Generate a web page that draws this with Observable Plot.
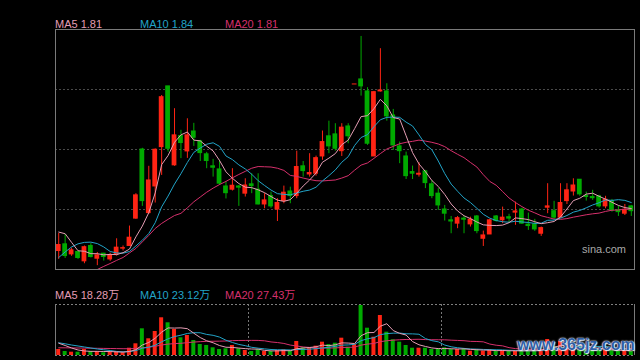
<!DOCTYPE html>
<html><head><meta charset="utf-8">
<script src="https://cdn.jsdelivr.net/npm/d3@7"></script>
<script src="https://cdn.jsdelivr.net/npm/@observablehq/plot@0.6"></script>
<style>
html,body{margin:0;padding:0;background:#000;}
#wrap{position:relative;width:640px;height:360px;background:#000;overflow:hidden;font-family:"Liberation Sans",Arial,"Noto Sans CJK SC",sans-serif;}
#wrap svg{position:absolute;left:0;}
.lg{position:absolute;font-size:11px;line-height:11px;white-space:nowrap;}
.wm1{position:absolute;font-size:11px;line-height:11px;color:#a8a8a8;}
.wm2{position:absolute;font-size:16px;line-height:16px;font-weight:bold;color:#2f5fa6;text-shadow:0 0 1px #fff,0 0 2px #fff,1px 1px 1px #dfe8f5;}
</style></head>
<body><div id="wrap"></div>
<script>
// ---- data ----
const open = [1.637,1.665,1.623,1.633,1.594,1.658,1.605,1.626,1.602,1.622,
1.647,1.658,1.772,2.060,1.795,1.906,2.070,2.323,1.994,2.116,
2.052,2.135,2.094,2.040,1.990,1.977,1.906,1.8925,1.906,1.876,
1.915,1.8925,1.831,1.866,1.810,1.845,1.885,1.866,1.990,1.956,
1.959,2.031,2.115,2.123,2.053,2.156,2.331,2.352,2.302,2.031,
2.302,2.302,2.202,2.073,2.031,1.966,1.955,1.969,1.915,1.876,
1.810,1.765,1.751,1.772,1.748,1.781,1.688,1.706,1.781,1.765,
1.778,1.797,1.810,1.747,1.748,1.709,1.8175,1.803,1.776,1.845,
1.885,1.934,1.866,1.862,1.865,1.823,1.845,1.806,1.7925,1.823];
const close = [1.662,1.616,1.640,1.608,1.653,1.612,1.619,1.612,1.619,1.651,
1.649,1.6925,1.869,1.845,1.931,2.059,2.278,2.063,2.119,2.087,
2.119,2.109,2.045,2.012,1.984,1.9175,1.878,1.909,1.901,1.910,
1.9075,1.831,1.848,1.823,1.837,1.880,1.866,1.987,1.970,1.962,
2.024,2.091,2.073,2.063,2.151,2.115,2.331,2.323,2.084,2.299,
2.306,2.198,2.077,2.053,1.949,1.959,1.959,1.920,1.866,1.827,
1.7925,1.760,1.774,1.7675,1.7675,1.720,1.702,1.765,1.762,1.776,
1.772,1.802,1.751,1.741,1.727,1.7325,1.823,1.776,1.837,1.890,
1.910,1.873,1.862,1.857,1.823,1.851,1.806,1.799,1.809,1.803];
const high = [1.710,1.706,1.649,1.635,1.658,1.668,1.631,1.627,1.628,1.688,
1.658,1.741,1.876,2.065,1.990,2.0625,2.285,2.323,2.230,2.140,
2.188,2.169,2.098,2.048,2.019,2.015,1.924,1.980,1.910,1.938,
1.959,1.959,1.876,1.8825,1.855,1.9075,1.903,2.053,2.010,2.0425,
2.0325,2.137,2.178,2.1675,2.1675,2.1675,2.331,2.531,2.3175,2.302,
2.480,2.334,2.227,2.091,2.049,1.991,2.005,1.973,1.931,1.897,
1.827,1.781,1.781,1.781,1.778,1.785,1.720,1.769,1.785,1.820,
1.790,1.841,1.815,1.795,1.769,1.737,1.9175,1.844,1.9175,1.9175,
1.938,1.935,1.8825,1.890,1.869,1.865,1.852,1.823,1.831,1.827];
const low = [1.602,1.606,1.615,1.602,1.584,1.608,1.576,1.595,1.594,1.616,
1.637,1.656,1.769,1.823,1.790,1.837,1.952,2.049,1.990,2.022,
2.023,2.073,2.010,1.980,1.945,1.910,1.854,1.887,1.823,1.862,
1.876,1.829,1.813,1.815,1.760,1.834,1.834,1.855,1.945,1.945,
1.949,2.015,2.0425,2.053,2.031,2.084,2.331,2.2825,2.077,2.031,
2.299,2.178,2.056,2.001,1.935,1.935,1.945,1.897,1.855,1.806,
1.762,1.709,1.730,1.709,1.737,1.709,1.656,1.706,1.7575,1.751,
1.753,1.744,1.748,1.723,1.719,1.698,1.7925,1.7675,1.773,1.831,
1.866,1.865,1.845,1.848,1.816,1.813,1.799,1.781,1.785,1.781];
const ma5 = [1.716,1.709,1.673,1.638,1.636,1.626,1.626,1.621,1.623,1.622,
1.630,1.645,1.696,1.741,1.797,1.879,1.997,2.035,2.090,2.121,
2.133,2.099,2.096,2.074,2.054,2.014,1.967,1.940,1.918,1.903,
1.901,1.892,1.880,1.864,1.849,1.844,1.851,1.878,1.908,1.933,
1.962,2.007,2.024,2.043,2.080,2.099,2.147,2.197,2.201,2.230,
2.269,2.242,2.193,2.187,2.117,2.047,2.000,1.968,1.931,1.906,
1.873,1.833,1.804,1.784,1.772,1.758,1.746,1.744,1.743,1.745,
1.755,1.775,1.772,1.768,1.759,1.751,1.755,1.760,1.779,1.812,
1.847,1.857,1.874,1.878,1.865,1.853,1.840,1.827,1.818,1.814];
const ma10 = [1.610,1.633,1.654,1.667,1.673,1.674,1.668,1.654,1.635,1.629,
1.628,1.635,1.658,1.682,1.710,1.755,1.821,1.866,1.916,1.959,
2.006,2.048,2.066,2.082,2.088,2.073,2.033,2.018,1.996,1.979,
1.957,1.930,1.910,1.891,1.876,1.873,1.871,1.879,1.886,1.891,
1.903,1.929,1.951,1.975,2.007,2.030,2.077,2.110,2.122,2.155,
2.184,2.194,2.195,2.194,2.174,2.158,2.121,2.081,2.059,2.012,
1.960,1.916,1.886,1.858,1.839,1.815,1.790,1.774,1.764,1.759,
1.757,1.761,1.758,1.756,1.752,1.753,1.765,1.766,1.774,1.785,
1.799,1.806,1.817,1.829,1.838,1.850,1.848,1.851,1.848,1.839];
const ma20 = [1.560,1.560,1.560,1.560,1.560,1.560,1.560,1.573,1.585,1.598,
1.610,1.629,1.648,1.675,1.702,1.731,1.752,1.769,1.785,1.794,
1.817,1.842,1.862,1.882,1.899,1.914,1.927,1.942,1.956,1.969,
1.982,1.989,1.988,1.987,1.982,1.973,1.952,1.948,1.941,1.935,
1.930,1.929,1.931,1.933,1.941,1.951,1.974,1.995,2.004,2.023,
2.043,2.062,2.073,2.084,2.090,2.094,2.099,2.095,2.090,2.083,
2.072,2.055,2.040,2.026,2.006,1.987,1.955,1.927,1.911,1.885,
1.858,1.839,1.822,1.807,1.796,1.784,1.777,1.770,1.769,1.772,
1.778,1.783,1.788,1.792,1.795,1.802,1.807,1.808,1.811,1.812];
// volume in 万
const volume = [23.9,15.9,13.1,13.1,23.9,15.9,15.9,10.7,13.1,15.9,
10.7,29.0,46.5,106.1,66.4,95.4,149.9,130.0,103.4,70.4,
79.5,59.6,43.7,39.8,30.6,23.9,26.6,39.8,26.6,19.9,
15.9,23.9,15.9,15.9,19.9,22.7,19.9,55.7,30.6,30.6,
37.0,52.9,43.7,48.9,68.8,33.0,43.7,198.8,108.5,72.7,
159.0,92.6,62.4,52.9,39.8,29.0,29.0,29.0,23.9,26.6,
30.6,23.9,23.9,26.6,17.1,22.7,17.1,22.7,17.1,19.9,
17.1,17.1,19.9,19.9,19.9,23.9,63.6,35.8,55.7,43.7,
35.8,31.8,23.9,21.9,26.6,19.9,19.9,15.9,19.9,15.9];
const vma5 = [48.9,39.8,29.8,21.9,18.0,16.4,16.4,15.9,15.9,14.3,
13.3,15.9,23.1,41.7,51.8,68.7,92.9,109.6,109.0,109.8,
106.6,88.6,71.3,58.6,50.6,39.5,32.9,32.1,29.5,27.3,
25.8,25.2,20.4,18.3,18.3,19.6,18.8,26.8,29.7,31.9,
34.7,41.3,39.0,42.6,50.2,49.4,47.6,78.6,90.6,91.3,
116.5,126.3,99.1,87.9,81.3,55.3,42.6,35.9,30.1,27.5,
27.8,26.8,25.8,26.3,24.4,22.8,21.5,21.2,19.3,19.9,
18.8,18.8,18.2,18.8,18.8,20.1,29.4,32.6,39.8,44.5,
46.9,40.5,38.2,31.4,28.0,24.8,22.4,20.8,20.4,18.28];
const vma10 = [50.5,46.5,41.7,37.8,33.8,29.8,25.8,22.7,19.9,16.1,
14.8,16.1,19.5,28.8,33.0,41.0,54.4,66.3,75.3,80.8,
87.6,90.7,90.4,83.8,80.2,73.1,60.7,51.7,44.0,39.0,
32.6,29.1,26.3,23.9,22.8,22.7,22.0,23.6,24.0,25.1,
27.2,30.1,32.9,36.2,41.1,42.1,44.5,58.8,66.6,70.8,
83.0,87.0,88.8,89.2,86.3,85.9,84.5,67.5,59.0,54.4,
41.6,34.7,30.8,28.2,26.0,25.3,24.1,23.5,22.8,22.1,
20.8,20.1,19.7,19.0,19.3,19.4,24.1,25.4,29.3,31.6,
33.5,35.0,35.4,35.6,36.3,35.9,31.5,29.5,25.9,23.12];
const vma20 = [30.6,30.6,30.2,29.8,29.4,29.0,28.6,28.2,27.8,27.4,
27.0,27.0,27.8,31.0,33.0,36.6,41.7,45.3,47.3,48.5,
51.2,53.4,55.0,56.3,56.6,57.0,57.6,59.0,59.7,59.9,
60.1,59.9,58.4,53.9,51.5,47.9,41.4,37.7,34.0,32.0,
29.9,29.6,29.6,30.1,32.0,32.4,33.3,41.2,45.3,47.9,
55.1,58.6,60.9,62.7,63.7,64.0,64.5,63.2,62.8,62.6,
62.3,60.9,59.9,58.8,56.2,55.7,54.3,45.5,40.9,38.3,
31.2,27.4,25.3,23.7,22.7,22.4,24.1,24.4,26.0,26.9,
27.1,27.5,27.5,27.3,27.8,27.7,27.8,27.5,27.6,27.43];
const maNames = ["MA5", "MA10", "MA20"];
const priceMALast = ["1.81", "1.84", "1.81"];
const volMALast = ["18.28万", "23.12万", "27.43万"];
const priceGrid = [1.81, 2.06, 2.31];
const priceDomain = [1.56, 2.56];
const volDomain = [0, 202.7];
const monthStarts = [30, 60];

// ---- styles ----
const UP = "#ff2414", DOWN = "#00aa00";
const MA_COLORS = ["#e49db4", "#22a4c8", "#d6306c"];
const FRAME = "#7a7a7a";
const W = 640, ML = 55, MR = 6;

const rows = open.map((o, i) => ({i, open: o, close: close[i], high: high[i], low: low[i], vol: volume[i], up: close[i] >= o}));
const upRows = rows.filter(d => d.up), dnRows = rows.filter(d => !d.up);
const xDom = [-0.5, open.length - 0.5];
const BW = 0.37, VW = 0.31;

const maLine = (a, color) => Plot.lineY(a, {x: (d, i) => i, y: d => d, stroke: color, strokeWidth: 1});

const price = Plot.plot({
  width: W, height: 270, marginTop: 29, marginBottom: 1, marginLeft: ML, marginRight: MR,
  style: {background: "transparent"},
  x: {type: "linear", domain: xDom, axis: null},
  y: {domain: priceDomain, axis: null},
  marks: [
    Plot.ruleY(priceGrid, {stroke: "#4a4a4a", strokeDasharray: "2,2"}),
    Plot.ruleX(upRows, {x: "i", y1: "low", y2: "high", stroke: UP}),
    Plot.ruleX(dnRows, {x: "i", y1: "low", y2: "high", stroke: DOWN}),
    Plot.rect(upRows, {x1: d => d.i - BW, x2: d => d.i + BW, y1: "open", y2: "close", fill: UP, insetTop: -0.5, insetBottom: -0.5}),
    Plot.rect(dnRows, {x1: d => d.i - BW, x2: d => d.i + BW, y1: "open", y2: "close", fill: DOWN, insetTop: -0.5, insetBottom: -0.5}),
    maLine(ma20, MA_COLORS[2]),
    maLine(ma10, MA_COLORS[1]),
    maLine(ma5, MA_COLORS[0]),
    Plot.frame({stroke: FRAME})
  ]
});

const vol = Plot.plot({
  width: W, height: 90, marginTop: 34, marginBottom: 5, marginLeft: ML, marginRight: MR,
  style: {background: "transparent"},
  x: {type: "linear", domain: xDom, axis: null},
  y: {domain: volDomain, axis: null},
  marks: [
    Plot.rect(upRows, {x1: d => d.i - VW, x2: d => d.i + VW, y1: 0, y2: "vol", fill: UP}),
    Plot.rect(dnRows, {x1: d => d.i - VW, x2: d => d.i + VW, y1: 0, y2: "vol", fill: DOWN}),
    maLine(vma20, MA_COLORS[2]),
    maLine(vma10, MA_COLORS[1]),
    maLine(vma5, MA_COLORS[0]),
    Plot.ruleX(monthStarts, {x: d => d - 0.5, stroke: "#777", strokeDasharray: "2,2"}),
    Plot.ruleY(volDomain, {stroke: "#808080", strokeDasharray: "2,2"}),
    Plot.ruleX(xDom, {stroke: FRAME})
  ]
});

const wrap = document.getElementById("wrap");
price.style.top = "0px";
vol.style.top = "270px";
wrap.appendChild(price);
wrap.appendChild(vol);

const lgX = [55, 140, 225];
maNames.forEach((n, k) => {
  const a = document.createElement("div");
  a.className = "lg"; a.style.left = lgX[k] + "px"; a.style.top = "19px"; a.style.color = MA_COLORS[k];
  a.textContent = n + " " + priceMALast[k];
  wrap.appendChild(a);
  const b = document.createElement("div");
  b.className = "lg"; b.style.left = lgX[k] + "px"; b.style.top = "290px"; b.style.color = MA_COLORS[k];
  b.textContent = n + " " + volMALast[k];
  wrap.appendChild(b);
});
const s = document.createElement("div");
s.className = "wm1"; s.style.left = "582px"; s.style.top = "244px"; s.textContent = "sina.com";
wrap.appendChild(s);
const w2 = document.createElement("div");
w2.className = "wm2"; w2.style.left = "517px"; w2.style.top = "337px"; w2.textContent = "www.365jz.com";
wrap.appendChild(w2);
</script>
</body></html>
